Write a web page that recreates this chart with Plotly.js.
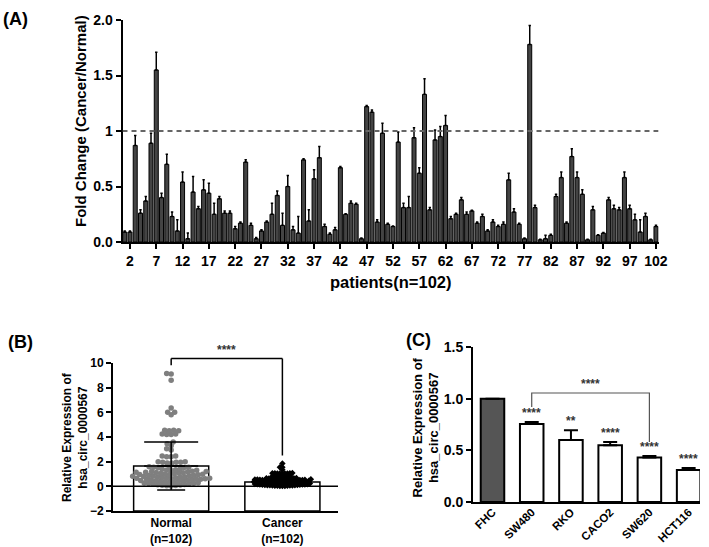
<!DOCTYPE html>
<html><head><meta charset="utf-8">
<script src="https://cdn.plot.ly/plotly-3.0.1.min.js"></script>
<style>html,body{margin:0;padding:0;background:#fff}#chart{width:709px;height:547px}</style>
</head><body><div id="chart"></div>
<script>
// ---------- Panel A data ----------
const foldChange = [0.09,0.09,0.87,0.26,0.37,0.89,1.55,0.40,0.70,0.23,
0.10,0.54,0.03,0.45,0.30,0.47,0.44,0.25,0.39,0.26,
0.26,0.12,0.17,0.72,0.15,0.03,0.10,0.18,0.25,0.42,
0.15,0.50,0.11,0.08,0.74,0.19,0.57,0.76,0.14,0.07,
0.11,0.67,0.25,0.35,0.34,0.03,1.22,1.17,0.18,0.98,
0.16,0.14,0.90,0.31,0.31,0.94,0.62,1.33,0.29,0.92,
0.95,1.05,0.21,0.25,0.38,0.25,0.28,0.17,0.23,0.10,
0.18,0.14,0.16,0.56,0.27,0.16,0.03,1.78,0.31,0.02,
0.03,0.06,0.41,0.58,0.17,0.77,0.58,0.43,0.02,0.29,
0.06,0.08,0.38,0.30,0.29,0.58,0.30,0.20,0.09,0.23,
0.02,0.14];
const foldErr = [0.01,0.01,0.09,0.03,0.04,0.09,0.16,0.04,0.09,0.04,
0.10,0.09,0.05,0.14,0.02,0.09,0.09,0.10,0.02,0.02,
0.02,0.02,0.01,0.02,0.02,0.01,0.01,0.01,0.10,0.04,
0.11,0.10,0.03,0.15,0.01,0.10,0.08,0.10,0.02,0.01,
0.02,0.01,0.005,0.02,0.01,0.005,0.01,0.02,0.02,0.09,
0.01,0.005,0.09,0.04,0.10,0.09,0.05,0.14,0.02,0.09,
0.09,0.09,0.02,0.01,0.02,0.02,0.005,0.01,0.02,0.01,
0.02,0.01,0.02,0.06,0.03,0.01,0.005,0.17,0.02,0.005,
0.03,0.01,0.02,0.05,0.01,0.07,0.05,0.04,0.005,0.03,
0.005,0.005,0.02,0.03,0.02,0.05,0.03,0.05,0.11,0.03,
0.005,0.01];
const patientTicks = [2,7,12,17,22,27,32,37,42,47,52,57,62,67,72,77,82,87,92,97,102];
const foldTickVals = [0,0.5,1,1.5,2];
const foldTickText = ['0.0','0.5','1','1.5','2.0'];

// ---------- Panel B data ----------
const normalExpr = [9.15,9.1,8.6,6.35,6.0,6.0,5.8,4.55,4.55,4.5,4.5,4.25,4.2,4.2,4.25,
3.6,3.45,3.3,3.05,2.95,2.45,2.45,2.4,2.4,2.0,1.95,1.95,2.0,1.9,1.95,1.9,
1.6,1.58,1.55,1.55,1.52,1.5,
1.4,1.38,1.35,1.33,1.3,1.28,
1.22,1.2,1.2,1.18,1.15,1.14,1.12,1.1,
1.08,1.05,1.03,1.0,0.98,0.96,0.95,0.93,
0.9,0.88,0.86,0.84,0.82,0.8,0.78,0.76,
0.74,0.72,0.7,0.68,0.66,0.65,0.64,0.62,0.6,
0.58,0.56,0.55,0.53,0.5,0.48,0.46,0.45,
0.42,0.4,0.38,0.36,0.33,0.3,
0.28,0.25,0.22,0.2,0.18,0.15,0.12,0.1,0.08,0.06,0.05,0.03];
const cancerExpr = [1.85,1.55,1.55,1.35,
1.08,1.06,1.05,1.05,1.04,1.05,1.06,1.05,1.07,
0.82,0.8,0.8,0.78,0.8,0.79,0.81,0.8,
0.68,0.66,0.65,0.64,0.63,0.62,0.62,0.61,0.6,0.6,
0.58,0.57,0.56,0.55,0.55,0.54,0.53,0.52,0.52,0.51,0.5,0.5,
0.48,0.47,0.46,0.45,0.45,0.44,0.43,0.42,0.42,0.41,0.4,0.4,
0.38,0.37,0.36,0.35,0.35,0.34,0.33,0.32,0.32,0.31,0.3,0.3,
0.28,0.27,0.26,0.25,0.25,0.24,0.23,0.22,0.22,0.21,0.2,0.2,
0.18,0.17,0.16,0.15,0.15,0.14,0.13,0.12,0.11,0.1,
0.09,0.08,0.08,0.07,0.06,0.06,0.05,0.05,
0.04,0.03,0.02,0.02,0.59];
const groupLabels = ['Normal<br>(n=102)','Cancer<br>(n=102)'];
const groupMeans = [1.65, 0.35];
const groupSD = [1.95, 0.27];
const bTickVals = [-2,0,2,4,6,8,10];

// ---------- Panel C data ----------
const cellLines = ['FHC','SW480','RKO','CACO2','SW620','HCT116'];
const cellExpr = [1.0, 0.755, 0.60, 0.55, 0.43, 0.31];
const cellErr = [0, 0.02, 0.095, 0.03, 0.015, 0.02];
const cellStars = ['', '****', '**', '****', '****', '****'];
const cTickVals = [0,0.5,1,1.5];

// ---------- helpers ----------
const W = 709, H = 547;
const px = x => x / W;
const py = y => 1 - y / H;
const FONT = 'Liberation Sans, Arial, Helvetica, sans-serif';
const bf = (size, color) => ({family: FONT, size: size, color: color || '#000', weight: 'bold'});

function swarm(vals, cx, xScale, yScale, d) {
  const sorted = vals.slice().sort((a, b) => a - b);
  const placed = [], xs = [], ys = [];
  for (const v of sorted) {
    const pyv = v * yScale;
    let best = 0;
    for (let k = 0; k < 600; k++) {
      const off = (k % 2 === 0 ? 1 : -1) * Math.ceil(k / 2) * 0.5;
      let ok = true;
      for (const p of placed) {
        const dx = p[0] - off, dy = p[1] - pyv;
        if (dx * dx + dy * dy < d * d) { ok = false; break; }
      }
      if (ok) { best = off; break; }
    }
    placed.push([best, pyv]);
    xs.push(cx + best / xScale);
    ys.push(v);
  }
  return {xs, ys};
}

// Panel domains (pixels)
const A = {x0: 122.5, x1: 658.6, y0: 242, y1: 20};
const B = {x0: 113, x1: 338, y0: 511, y1: 363};
const C = {x0: 473, x1: 700, y0: 502, y1: 347};
const bXRange = [-0.523, 1.50], bYRange = [-2, 10];
const bxs = (B.x1 - B.x0) / (bXRange[1] - bXRange[0]);
const bys = (B.y0 - B.y1) / (bYRange[1] - bYRange[0]);

const patients = foldChange.map((_, i) => i + 1);
const zerosA = foldChange.map(() => 0);

const traces = [];
// Panel A bars
traces.push({
  type: 'bar', x: patients, y: foldChange, width: 0.76,
  marker: {color: '#444444', line: {color: '#000', width: 1}},
  error_y: {type: 'data', symmetric: false, array: foldErr, arrayminus: zerosA,
            color: '#000', thickness: 1.5, width: 1.2},
  xaxis: 'x', yaxis: 'y', hoverinfo: 'skip'
});

// Panel B bars
traces.push({
  type: 'bar', x: [0, 1], y: groupMeans.map(m => m - bYRange[0]), base: [bYRange[0], bYRange[0]],
  width: 0.675, marker: {color: '#fff', line: {color: '#000', width: 1.5}},
  xaxis: 'x2', yaxis: 'y2', hoverinfo: 'skip'
});
const sN = swarm(normalExpr, 0, bxs, bys, 4.2);
const sC = swarm(cancerExpr, 1, bxs, bys, 2.4);
traces.push({type: 'scatter', mode: 'markers', x: sN.xs, y: sN.ys,
  marker: {size: 5.5, color: '#7f7f7f'}, xaxis: 'x2', yaxis: 'y2', hoverinfo: 'skip'});
traces.push({type: 'scatter', mode: 'markers', x: sC.xs, y: sC.ys,
  marker: {size: 5, color: '#000', symbol: 'diamond'}, xaxis: 'x2', yaxis: 'y2', hoverinfo: 'skip'});
// error bars B
traces.push({type: 'scatter', mode: 'markers', x: [0], y: [groupMeans[0]],
  marker: {size: 1, color: '#000'},
  error_y: {type: 'data', symmetric: false, array: [groupSD[0]], arrayminus: [0], color: '#000', thickness: 1.5, width: 27},
  xaxis: 'x2', yaxis: 'y2', hoverinfo: 'skip'});
traces.push({type: 'scatter', mode: 'markers', x: [0], y: [groupMeans[0]],
  marker: {size: 1, color: '#000'},
  error_y: {type: 'data', symmetric: false, array: [0], arrayminus: [groupSD[0]], color: '#000', thickness: 1.5, width: 14},
  xaxis: 'x2', yaxis: 'y2', hoverinfo: 'skip'});
traces.push({type: 'scatter', mode: 'markers', x: [1], y: [groupMeans[1]],
  marker: {size: 1, color: '#000'},
  error_y: {type: 'data', array: [groupSD[1]], color: '#000', thickness: 1.5, width: 16},
  xaxis: 'x2', yaxis: 'y2', hoverinfo: 'skip'});

// Panel C bars
traces.push({
  type: 'bar', x: cellLines.map((_, i) => i), y: cellExpr, width: 0.6,
  marker: {color: cellLines.map((_, i) => i === 0 ? '#555555' : '#ffffff'), line: {color: '#000', width: 2}},
  error_y: {type: 'data', symmetric: false, array: cellErr, arrayminus: cellErr.map(() => 0),
            color: '#000', thickness: 2, width: 7},
  xaxis: 'x3', yaxis: 'y3', hoverinfo: 'skip'
});

const axisBase = {showline: true, linecolor: '#000', linewidth: 2, ticks: 'outside', ticklen: 5,
  tickwidth: 2, tickcolor: '#000', showgrid: false, zeroline: false, fixedrange: true};

const layout = {
  width: W, height: H, autosize: false, margin: {l: 0, r: 0, t: 0, b: 0},
  paper_bgcolor: '#fff', plot_bgcolor: 'rgba(0,0,0,0)', showlegend: false,
  xaxis: Object.assign({}, axisBase, {domain: [px(A.x0), px(A.x1)], range: [0.58, 102.5], anchor: 'y',
    tickvals: patientTicks, tickfont: bf(14)}),
  yaxis: Object.assign({}, axisBase, {domain: [py(A.y0), py(A.y1)], range: [0, 2], anchor: 'x',
    tickvals: foldTickVals, ticktext: foldTickText, tickfont: bf(14)}),
  xaxis2: Object.assign({}, axisBase, {domain: [px(B.x0), px(B.x1)], range: bXRange, anchor: 'y2',
    tickvals: [0, 1], ticktext: groupLabels, ticks: '', tickfont: bf(12)}),
  yaxis2: Object.assign({}, axisBase, {domain: [py(B.y0), py(B.y1)], range: bYRange, anchor: 'x2',
    tickvals: bTickVals, tickfont: bf(12)}),
  xaxis3: Object.assign({}, axisBase, {domain: [px(C.x0), px(C.x1)], range: [-0.497, 5.29], anchor: 'y3',
    tickvals: cellLines.map((_, i) => i), ticktext: cellLines, ticks: '', tickangle: -45,
    ticklabelstandoff: -3, tickfont: bf(11.5)}),
  yaxis3: Object.assign({}, axisBase, {domain: [py(C.y0), py(C.y1)], range: [0, 1.5], anchor: 'x3',
    tickvals: cTickVals, tickformat: '.1f', tickfont: bf(14)}),
  shapes: [
    {type: 'line', xref: 'x', yref: 'y', x0: 0.58, x1: 102.5, y0: 1, y1: 1,
     line: {color: '#666', width: 2, dash: '5px,4px'}},
    {type: 'line', xref: 'x2', yref: 'y2', x0: bXRange[0], x1: bXRange[1], y0: 0, y1: 0,
     line: {color: '#000', width: 1.5}},
    // B bracket
    {type: 'line', xref: 'x2', yref: 'y2 domain', x0: 0, x1: 0, y0: 0.985, y1: 1.03, line: {color: '#000', width: 1.5}},
    {type: 'line', xref: 'x2', yref: 'y2 domain', x0: 0, x1: 1, y0: 1.03, y1: 1.03, line: {color: '#000', width: 1.5}},
    {type: 'line', xref: 'x2', yref: 'y2 domain', x0: 1, x1: 1, y0: 1.03,
     y1: (2.5 - bYRange[0]) / (bYRange[1] - bYRange[0]), line: {color: '#000', width: 1.5}},
    // C bracket
    {type: 'path', xref: 'x3', yref: 'y3', path: 'M1,0.92 L1,1.055 L4,1.055 L4,0.58',
     line: {color: '#555', width: 1.2}}
  ],
  annotations: [
    {text: '(A)', xref: 'paper', yref: 'paper', x: px(1), y: py(19), xanchor: 'left', yanchor: 'middle', showarrow: false, font: bf(18)},
    {text: '(B)', xref: 'paper', yref: 'paper', x: px(6), y: py(342), xanchor: 'left', yanchor: 'middle', showarrow: false, font: bf(18)},
    {text: '(C)', xref: 'paper', yref: 'paper', x: px(404), y: py(340), xanchor: 'left', yanchor: 'middle', showarrow: false, font: bf(18)},
    {text: 'Fold Change (Cancer/Normal)', xref: 'paper', yref: 'paper', x: px(80), y: py(121), textangle: -90,
     xanchor: 'center', yanchor: 'middle', showarrow: false, font: bf(15)},
    {text: 'patients(n=102)', xref: 'paper', yref: 'paper', x: px(391), y: py(282),
     xanchor: 'center', yanchor: 'middle', showarrow: false, font: bf(16.5)},
    {text: 'Relative Expression of<br>hsa_circ_0000567', xref: 'paper', yref: 'paper', x: px(75), y: py(437), textangle: -90,
     xanchor: 'center', yanchor: 'middle', showarrow: false, font: bf(12)},
    {text: 'Relative Expression of<br>hsa_circ_0000567', xref: 'paper', yref: 'paper', x: px(425.5), y: py(427), textangle: -90,
     xanchor: 'center', yanchor: 'middle', showarrow: false, font: bf(13)},
    {text: '****', xref: 'x2', yref: 'y2 domain', x: 0.5, y: 1.03, xanchor: 'center', yanchor: 'bottom', showarrow: false, font: bf(12, '#333')},
    {text: '****', xref: 'x3', yref: 'y3', x: 2.5, y: 1.055, xanchor: 'center', yanchor: 'bottom', showarrow: false, font: bf(12, '#333')}
  ]
};
cellStars.forEach((s, i) => {
  if (!s) return;
  layout.annotations.push({text: s, xref: 'x3', yref: 'y3', x: i, y: cellExpr[i] + cellErr[i],
    xanchor: 'center', yanchor: 'bottom', showarrow: false, font: bf(12, '#333')});
});

Plotly.newPlot('chart', traces, layout, {staticPlot: true, displayModeBar: false});
</script></body></html>
